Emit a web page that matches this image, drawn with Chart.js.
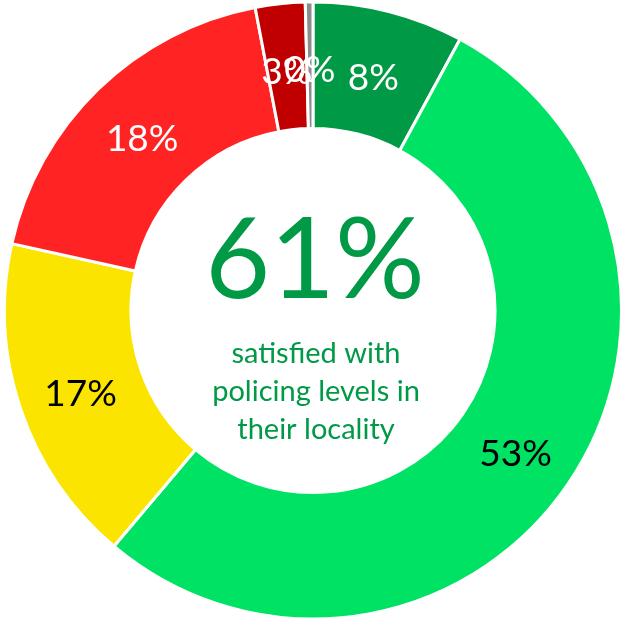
<!DOCTYPE html>
<html>
<head>
<meta charset="utf-8">
<script src="https://cdn.jsdelivr.net/npm/chart.js"></script>
<style>
  body { margin: 0; background: #fff; }
  #wrap { width: 623px; height: 621px; }
</style>
</head>
<body>
<div id="wrap"><canvas id="myChart"></canvas></div>
<script>
// slice data, clockwise from 12 o'clock
const categories = ["Very satisfied", "Fairly satisfied", "Neither", "Fairly dissatisfied", "Very dissatisfied", "Don't know"];
const shares = [7.9, 53.2, 17.3, 18.5, 2.6, 0.4];
const share_labels = ["8%", "53%", "17%", "18%", "3%", "0%"];
const slice_colors = ["#009a46", "#00e264", "#fbe500", "#ff2323", "#c00000", "#8c8c8c"];
const label_colors = ["#fff", "#000", "#000", "#fff", "#fff", "#fff"];

const headline = "61%";
const subtitle = ["satisfied with", "policing levels in", "their locality"];

// draws the % on each slice and the text in the hole
const textPlugin = {
  id: "ringText",
  afterDraw(chart) {
    const ctx = chart.ctx;
    const meta = chart.getDatasetMeta(0);
    ctx.save();
    ctx.textAlign = "center";
    ctx.textBaseline = "middle";
    ctx.font = "37px Lato";
    meta.data.forEach((arc, i) => {
      const pos = arc.tooltipPosition();
      ctx.fillStyle = label_colors[i];
      ctx.fillText(share_labels[i], pos.x, pos.y + 5);
    });

    const cx = (chart.chartArea.left + chart.chartArea.right) / 2;
    const cy = (chart.chartArea.top + chart.chartArea.bottom) / 2;
    ctx.fillStyle = "#009a46";
    ctx.textBaseline = "alphabetic";
    ctx.font = "112px Lato";
    ctx.fillText(headline, cx + 2, cy - 13);
    ctx.font = "29px Lato";
    subtitle.forEach((line, i) => {
      ctx.fillText(line, cx + 3, cy + 52 + i * 38);
    });
    ctx.restore();
  },
};

const ctx = document.getElementById("myChart");
new Chart(ctx, {
  type: "doughnut",
  data: {
    labels: categories,
    datasets: [
      {
        data: shares,
        backgroundColor: slice_colors,
        borderColor: "#fff",
        borderWidth: 3,
      },
    ],
  },
  options: {
    responsive: true,
    maintainAspectRatio: false,
    animation: false,
    cutout: "59%",
    layout: { padding: { left: 3, right: 0, top: 0, bottom: 0 } },
    plugins: {
      legend: { display: false },
      tooltip: { enabled: false },
    },
  },
  plugins: [textPlugin],
});
</script>
</body>
</html>
